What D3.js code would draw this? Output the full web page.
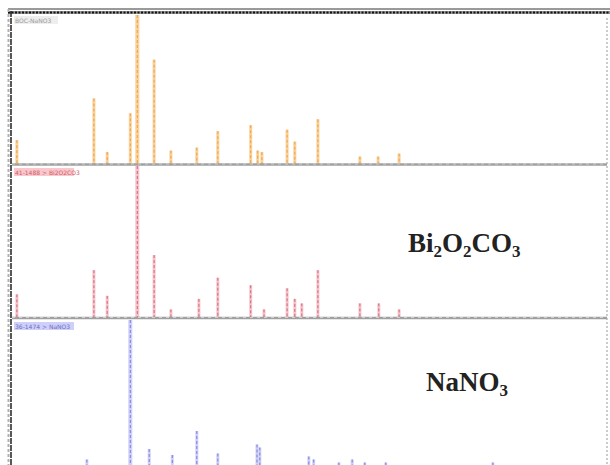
<!DOCTYPE html>
<html>
<head>
<meta charset="utf-8">
<script src="https://cdn.jsdelivr.net/npm/d3@7"></script>
<style>
    body { margin: 0; background: #fff; }
    svg { display: block; }
</style>
</head>
<body>
<svg id="chart" width="610" height="465"></svg>
<script>
// 2-theta range of the window (degrees)
const twoThetaDomain = [12, 97]

// peaks as [2theta, relative intensity]
const samplePeaks = [[12.7, 16], [23.7, 44], [25.6, 8], [28.9, 34], [29.9, 100], [32.3, 70],
    [34.7, 9], [38.4, 11], [41.4, 22], [46.1, 26], [47.1, 9], [47.7, 8], [51.3, 23],
    [52.4, 15], [55.7, 30], [61.7, 5], [64.3, 5], [67.3, 7]]

const bocPeaks = [[12.7, 15], [23.7, 31], [25.6, 14], [29.9, 100], [32.3, 41], [34.7, 5],
    [38.7, 12], [41.4, 26], [46.1, 21], [48.0, 5], [51.3, 19], [52.4, 12], [53.4, 9],
    [55.7, 31], [61.7, 9], [64.4, 9], [67.3, 5]]

const nitratePeaks = [[22.7, 7], [28.9, 100], [31.6, 14], [34.9, 10], [38.4, 26], [41.4, 11],
    [47.0, 17], [47.4, 15], [54.4, 9], [55.1, 7], [58.7, 5], [60.6, 7], [62.4, 5],
    [65.4, 5], [80.7, 5]]

const cardLabels = ['BOC-NaNO3', '41-1488 > Bi2O2CO3', '36-1474 > NaNO3']

const svg = d3.select('#chart')
const x = d3.scaleLinear().domain(twoThetaDomain).range([12, 607])

const panels = [
    {peaks: samplePeaks, top: 15, base: 164, light: '#fbd29a', dark: '#e8a24a', tag: '#eeeeee', tagText: '#999'},
    {peaks: bocPeaks, top: 166, base: 317, light: '#f8c4cc', dark: '#c86a7a', tag: '#f9c8cc', tagText: '#d05a6a'},
    {peaks: nitratePeaks, top: 320, base: 470, light: '#cfd0fa', dark: '#7e80cc', tag: '#cfd0fa', tagText: '#6a6cc0'}
]

panels.forEach((p, i) => {
    const y = d3.scaleLinear().domain([0, 100]).range([p.base, p.top])
    const g = svg.append('g').attr('class', 'panel')

    g.selectAll('rect.peak')
        .data(p.peaks)
        .enter()
        .append('rect')
        .attr('class', 'peak')
        .attr('x', d => x(d[0]) - (d[1] > 90 ? 2 : 1.5))
        .attr('width', d => d[1] > 90 ? 4 : 3)
        .attr('y', d => y(d[1]))
        .attr('height', d => p.base - y(d[1]))
        .style('fill', p.light)

    g.selectAll('line.peak')
        .data(p.peaks)
        .enter()
        .append('line')
        .attr('class', 'peak')
        .attr('x1', d => x(d[0]))
        .attr('x2', d => x(d[0]))
        .attr('y1', d => y(d[1]))
        .attr('y2', p.base)
        .style('stroke', p.dark)
        .style('stroke-width', 1)
        .style('stroke-dasharray', '3,2')

    // card tag, top left
    const tag = g.append('g').attr('transform', `translate(14, ${p.top + (i == 0 ? 1 : 2)})`)
    tag.append('rect')
        .attr('width', i == 0 ? 44 : 60)
        .attr('height', 8)
        .style('fill', p.tag)
    tag.append('text')
        .attr('x', 1)
        .attr('y', 6.5)
        .text(cardLabels[i])
        .style('font-family', 'DejaVu Sans')
        .style('font-size', '6px')
        .style('fill', p.tagText)
})

// frame
const frame = svg.append('g')
frame.append('line')
    .attr('x1', 8).attr('x2', 610).attr('y1', 9).attr('y2', 9)
    .style('stroke', '#9a9a9a').style('stroke-width', 2)
frame.append('line')
    .attr('x1', 8).attr('x2', 610).attr('y1', 12.5).attr('y2', 12.5)
    .style('stroke', '#9a9a9a').style('stroke-width', 3)
frame.append('line')
    .attr('x1', 8).attr('x2', 610).attr('y1', 12.5).attr('y2', 12.5)
    .style('stroke', '#111').style('stroke-width', 2).style('stroke-dasharray', '2,1.5')
frame.append('line')
    .attr('x1', 8.5).attr('x2', 8.5).attr('y1', 9).attr('y2', 465)
    .style('stroke', '#b0b0b0').style('stroke-width', 2).style('stroke-dasharray', '3,2')
frame.append('line')
    .attr('x1', 11).attr('x2', 11).attr('y1', 11).attr('y2', 465)
    .style('stroke', '#222').style('stroke-width', 1.5).style('stroke-dasharray', '6,1')
frame.append('line')
    .attr('x1', 607).attr('x2', 607).attr('y1', 18).attr('y2', 465)
    .style('stroke', '#bbb').style('stroke-width', 1.5).style('stroke-dasharray', '2,2')

// panel separators
svg.selectAll('line.sep')
    .data([164.5, 318])
    .enter()
    .append('line')
    .attr('class', 'sep')
    .attr('x1', 12).attr('x2', 607)
    .attr('y1', d => d).attr('y2', d => d)
    .style('stroke', '#a0a0a0').style('stroke-width', 2.5)
svg.selectAll('line.sep2')
    .data([164.5, 318])
    .enter()
    .append('line')
    .attr('class', 'sep2')
    .attr('x1', 12).attr('x2', 607)
    .attr('y1', d => d - 0.5).attr('y2', d => d - 0.5)
    .style('stroke', '#d0d0d0').style('stroke-width', 1).style('stroke-dasharray', '3,4')

// phase names
const names = [
    {parts: [['Bi', false], ['2', true], ['O', false], ['2', true], ['CO', false], ['3', true]], x: 408, y: 252},
    {parts: [['NaNO', false], ['3', true]], x: 426, y: 391}
]
names.forEach(n => {
    const t = svg.append('text')
        .attr('x', n.x)
        .attr('y', n.y)
        .style('font-family', 'Liberation Serif')
        .style('font-weight', 'bold')
        .style('font-size', '27px')
        .style('fill', '#222')
    let sub = false
    n.parts.forEach(([s, isSub]) => {
        t.append('tspan')
            .attr('dy', isSub === sub ? 0 : (isSub ? 5 : -5))
            .style('font-size', isSub ? '17px' : '27px')
            .text(s)
        sub = isSub
    })
})
</script>
</body>
</html>
